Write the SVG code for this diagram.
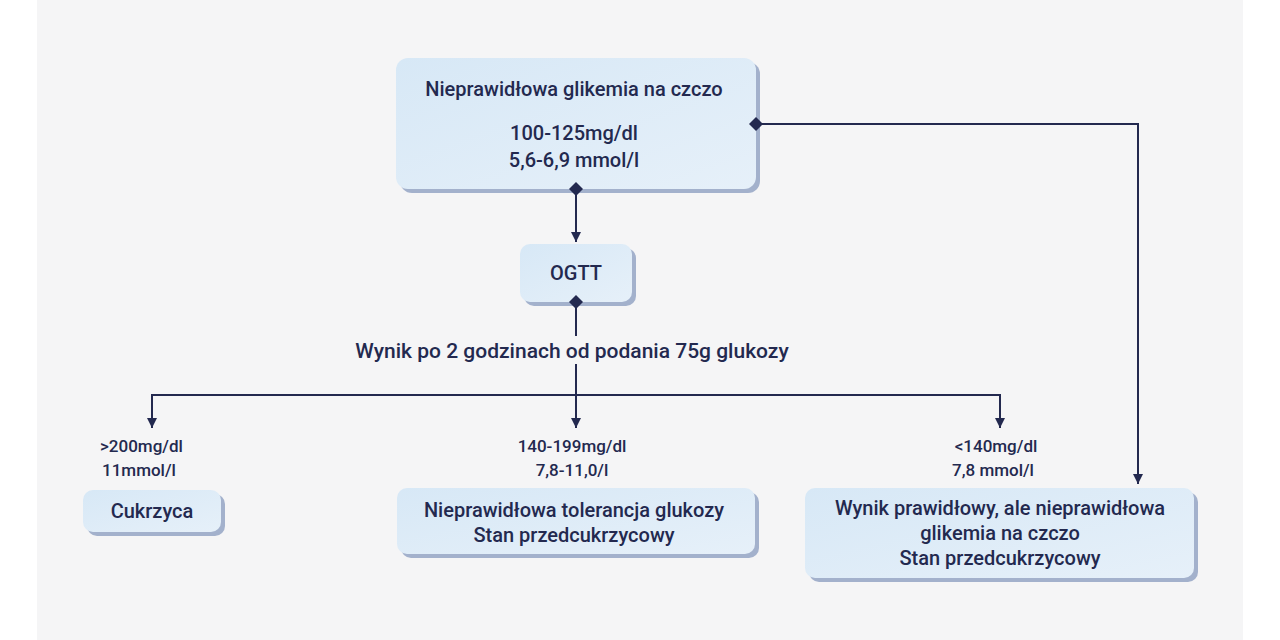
<svg xmlns="http://www.w3.org/2000/svg" width="1280" height="640" viewBox="0 0 1280 640">
<defs>
<linearGradient id="g" x1="0" y1="0" x2="1" y2="1"><stop offset="0" stop-color="#d7e8f6"/><stop offset="1" stop-color="#e6f0f9"/></linearGradient>
<marker id="ar" viewBox="0 0 10 10" refX="10" refY="5" markerWidth="10" markerHeight="10" markerUnits="userSpaceOnUse" orient="auto"><path d="M0,0 L10,5 L0,10 z" fill="#23294f"/></marker>
</defs>
<style>
.sh{fill:#a3b1cc}
.bx{fill:url(#g)}
.t{font-family:Roboto,"Noto Sans",sans-serif;font-weight:500;fill:#23294f;font-size:20px;text-anchor:middle}
.s{font-size:17px}
.c{stroke:#23294f;stroke-width:2;fill:none}
.d{fill:#23294f}
</style>
<rect width="1280" height="640" fill="#ffffff"/>
<rect x="37" y="0" width="1206" height="640" fill="#f5f5f6"/>
<g id="n1"><rect class="sh" x="400" y="62" width="360" height="131" rx="12"/><rect class="bx" x="396" y="58" width="360" height="131" rx="12"/>
<text class="t" x="574" y="96">Nieprawidłowa glikemia na czczo</text>
<text class="t" x="574" y="140">100-125mg/dl</text><text class="t" x="574" y="167">5,6-6,9 mmol/l</text></g>
<g id="n2"><rect class="sh" x="524" y="248" width="112" height="58" rx="10"/><rect class="bx" x="520" y="244" width="112" height="58" rx="10"/>
<text class="t" x="576" y="280">OGTT</text></g>
<g id="n3"><rect class="sh" x="87" y="494" width="138" height="42" rx="10"/><rect class="bx" x="83" y="490" width="138" height="42" rx="10"/>
<text class="t" x="152" y="518">Cukrzyca</text></g>
<g id="n4"><rect class="sh" x="401" y="492" width="358" height="66" rx="10"/><rect class="bx" x="397" y="488" width="358" height="66" rx="10"/>
<text class="t" x="574" y="517">Nieprawidłowa tolerancja glukozy</text><text class="t" x="574" y="542">Stan przedcukrzycowy</text></g>
<g id="n5"><rect class="sh" x="809" y="492" width="389" height="90" rx="10"/><rect class="bx" x="805" y="488" width="389" height="90" rx="10"/>
<text class="t" x="1000" y="515">Wynik prawidłowy, ale nieprawidłowa</text><text class="t" x="1000" y="540">glikemia na czczo</text><text class="t" x="1000" y="565">Stan przedcukrzycowy</text></g>
<g id="connectors">
<path class="c" d="M576,189 V242" marker-end="url(#ar)"/>
<path class="c" d="M576,302 V336"/>
<path class="c" d="M576,364 V428" marker-end="url(#ar)"/>
<path class="c" d="M152,428 V395 H1000 V428" />
<path class="c" d="M152,418 V428" marker-end="url(#ar)"/>
<path class="c" d="M1000,418 V428" marker-end="url(#ar)"/>
<path class="c" d="M756,124 H1138 V484" marker-end="url(#ar)"/>
<path class="d" d="M576,182 L583,189 L576,196 L569,189 z"/>
<path class="d" d="M576,295 L583,302 L576,309 L569,302 z"/>
<path class="d" d="M756,117 L763,124 L756,131 L749,124 z"/>
</g>
<text class="t" x="572" y="358" style="font-size:21px">Wynik po 2 godzinach od podania 75g glukozy</text>
<text class="t s" x="100" y="452" style="text-anchor:start">&gt;200mg/dl</text>
<text class="t s" x="102" y="476" style="text-anchor:start">11mmol/l</text>
<text class="t s" x="572" y="452">140-199mg/dl</text>
<text class="t s" x="572" y="476">7,8-11,0/l</text>
<text class="t s" x="996" y="452">&lt;140mg/dl</text>
<text class="t s" x="993" y="476">7,8 mmol/l</text>
</svg>
